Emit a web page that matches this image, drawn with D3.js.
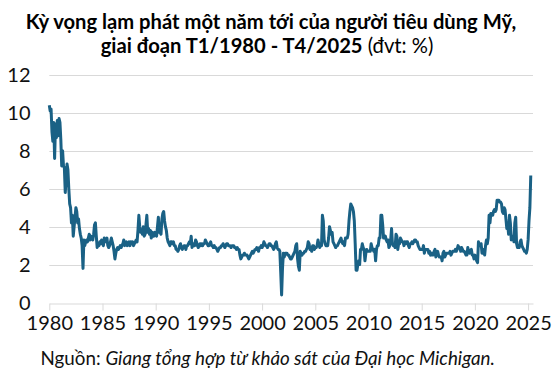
<!DOCTYPE html>
<html>
<head>
<meta charset="utf-8">
<script src="https://cdn.jsdelivr.net/npm/d3@7"></script>
<style>
  html, body { margin: 0; padding: 0; background: #fff; }
  svg { display: block; font-family: Lato, "Open Sans", sans-serif; }
</style>
</head>
<body>
<svg id="chart" width="559" height="380"></svg>
<script>
// ---- Data: monthly 1-year inflation expectations (%), Jan 1980 - Apr 2025 ----
const startYear = 1980;
const v1980s = [
  [10.4,10.1,10.2,9.0,8.5,9.5,7.6,9.4,8.7,9.6,8.8,9.7],  // 1980
  [9.5,8.6,7.2,8.0,7.2,7.1,5.8,6.5,7.3,7.0,6.0,5.2],     // 1981
  [5.0,4.2,4.6,3.5,4.0,4.5,5.0,4.8,4.2,4.4,3.9,3.6],     // 1982
  [3.4,3.0,1.8,3.3,3.0,3.2,3.3,3.2,3.4,3.6,3.3,3.5],     // 1983
  [3.4,3.3,3.6,4.1,4.2,3.5,2.9,3.1,3.0,3.2,3.1,3.3],     // 1984
  [3.1,3.0,3.4,3.2,3.3,3.4,3.0,2.9,3.0,3.2,3.4,3.2],     // 1985
  [3.0,2.7,2.3,2.6,2.8,2.9,2.8,2.9,3.0,2.9,3.0,3.1],     // 1986
  [3.3,3.0,3.1,3.2,3.0,3.1,3.2,3.0,3.2,3.1,3.2,3.0],     // 1987
  [3.1,3.2,3.3,3.2,3.8,4.6,4.0,3.7,3.8,3.6,4.0,3.5],     // 1988
  [3.6,4.1,4.6,3.7,3.9,3.6,3.8,3.4,3.7,3.5,3.5,3.7]      // 1989
];
const v1990s = [
  [3.6,3.5,4.0,4.5,3.7,3.7,3.6,4.4,4.7,4.8,4.3,4.0],     // 1990
  [3.8,3.4,3.2,3.1,3.0,3.2,3.2,3.1,3.2,3.0,3.0,2.8],     // 1991
  [2.8,2.7,2.8,3.0,3.1,2.9,2.8,2.9,3.0,3.0,2.8,3.0],     // 1992
  [3.0,3.1,3.2,3.1,3.5,2.9,3.1,3.0,3.0,3.3,3.2,3.0],     // 1993
  [2.9,3.0,3.1,3.0,3.1,3.0,3.1,3.1,3.3,3.2,3.1,3.0],     // 1994
  [3.0,3.1,3.2,3.0,3.0,2.9,3.0,2.9,2.9,2.8,2.7,2.8],     // 1995
  [2.9,2.9,3.0,3.0,3.1,3.0,2.9,3.0,3.1,3.1,3.0,3.0],     // 1996
  [3.0,2.9,3.0,3.0,3.0,2.9,2.9,2.8,2.9,2.8,2.8,2.5],     // 1997
  [2.3,2.4,2.5,2.5,2.6,2.5,2.5,2.5,2.4,2.3,2.4,2.5],     // 1998
  [2.6,2.7,2.6,2.7,2.8,2.8,2.9,2.8,2.7,2.9,2.9,3.0]      // 1999
];
const v2000s = [
  [2.9,3.0,3.2,3.1,3.0,3.0,2.9,3.0,3.1,3.1,3.0,3.0],     // 2000
  [2.9,2.8,2.9,3.1,3.2,2.9,2.8,2.8,2.7,1.6,0.4,1.8],     // 2001
  [2.6,2.4,2.6,2.6,2.6,2.5,2.5,2.4,2.3,2.3,2.4,2.5],     // 2002
  [2.6,2.7,3.0,3.1,2.3,1.9,1.7,2.7,2.6,2.5,2.6,2.6],     // 2003
  [2.7,2.7,2.8,2.9,3.2,3.1,2.8,2.8,2.7,3.0,3.0,2.8],     // 2004
  [2.9,2.9,3.0,3.3,3.1,2.9,3.1,3.0,4.6,4.3,3.3,3.1],     // 2005
  [3.0,3.0,3.0,3.4,4.0,3.8,3.6,3.7,3.2,3.1,3.0,2.9],     // 2006
  [3.0,3.0,3.1,3.2,3.3,3.4,3.2,3.1,3.2,3.0,3.4,3.4],     // 2007
  [3.4,3.6,4.3,4.8,5.2,5.1,5.0,4.8,4.3,3.1,1.7,1.7],     // 2008
  [2.0,2.2,2.0,2.8,2.8,3.1,2.9,2.8,2.2,2.6,2.8,2.7]      // 2009
];
const v2010s = [
  [2.7,2.7,2.7,3.1,2.9,2.8,2.7,2.8,2.2,2.8,3.0,3.0],     // 2010
  [3.4,3.4,4.6,4.6,4.1,3.4,3.4,3.5,3.3,3.2,3.3,2.9],     // 2011
  [3.0,3.3,3.9,3.1,3.0,3.0,2.9,3.6,3.5,2.8,3.1,3.1],     // 2012
  [3.4,3.3,3.2,3.2,3.0,3.2,3.1,3.2,3.2,3.0,2.9,3.1],     // 2013
  [3.1,3.2,3.1,3.2,3.3,3.3,3.2,3.2,3.0,2.9,2.8,2.8],     // 2014
  [2.8,2.8,3.0,2.6,2.8,2.8,2.8,2.8,2.6,2.7,2.5,2.6],     // 2015
  [2.5,2.5,2.7,2.8,2.4,2.6,2.7,2.5,2.4,2.4,2.4,2.2],     // 2016
  [2.6,2.7,2.4,2.5,2.6,2.6,2.6,2.6,2.7,2.5,2.6,2.7],     // 2017
  [2.7,2.7,2.8,2.7,2.8,3.0,2.9,2.9,2.7,2.9,2.8,2.7],     // 2018
  [2.7,2.6,2.5,2.5,2.9,2.7,2.6,2.7,2.8,2.5,2.5,2.3]      // 2019
];
const v2020s = [
  [2.5,2.4,2.2,2.1,3.2,3.0,3.0,3.1,2.6,2.6,2.8,2.5],     // 2020
  [3.0,3.3,3.1,3.4,4.6,4.2,4.7,4.6,4.6,4.8,4.9,4.8],     // 2021
  [4.9,5.4,5.4,5.4,5.3,5.3,5.2,4.8,4.7,5.0,4.9,4.4],     // 2022
  [3.9,4.1,3.6,4.6,4.2,3.3,3.4,3.5,3.2,4.2,4.5,3.1],     // 2023
  [2.9,3.0,2.9,3.2,3.3,3.0,2.9,2.8,2.7,2.7,2.6,2.8],     // 2024
  [3.3,4.3,5.0,6.7]                                      // 2025 (T1-T4)
];
const xTickYears = [1980,1985,1990,1995,2000,2005,2010,2015,2020,2025];
const yTickValues = [0,2,4,6,8,10,12];
const titleLine1 = "Kỳ vọng lạm phát một năm tới của người tiêu dùng Mỹ,";
const titleLine2Bold = "giai đoạn T1/1980 - T4/2025";
const titleLine2Unit = " (đvt: %)";
const sourceLabel = "Nguồn: ";
const sourceText = "Giang tổng hợp từ khảo sát của Đại học Michigan.";

// ---- Build series ----
const allYears = [].concat(v1980s, v1990s, v2000s, v2010s, v2020s);
const series = [];
allYears.forEach((months, yi) => {
  months.forEach((val, mi) => {
    series.push({ t: startYear + yi + mi / 12, v: val });
  });
});

// ---- Layout ----
const svg = d3.select("#chart");
const x = d3.scaleLinear().domain([1980, 2025.46]).range([49.3, 533]);
const y = d3.scaleLinear().domain([0, 12]).range([302.5, 75]);

// Gridlines
svg.append("g").selectAll("line")
  .data(yTickValues.filter(d => d > 0))
  .join("line")
  .attr("x1", x.range()[0]).attr("x2", x.range()[1])
  .attr("y1", d => Math.round(y(d)) + 0.5).attr("y2", d => Math.round(y(d)) + 0.5)
  .attr("stroke", "#d9d9d9").attr("stroke-width", 1);

// Y labels
svg.append("g").selectAll("text")
  .data(yTickValues)
  .join("text")
  .attr("x", 30.5).attr("y", d => y(d))
  .attr("dy", "0.36em")
  .attr("text-anchor", "end")
  .attr("font-size", 20)
  .attr("fill", "#111")
  .text(d => d);

// X axis
const xAxis = d3.axisBottom(x)
  .tickValues(xTickYears)
  .tickFormat(d3.format("d"))
  .tickSize(7)
  .tickSizeOuter(0)
  .tickPadding(5);
const gx = svg.append("g")
  .attr("transform", `translate(0,${Math.round(y(0)) + 0.5})`)
  .call(xAxis);
gx.select(".domain").attr("stroke", "#d9d9d9");
gx.selectAll(".tick line").attr("stroke", "#d9d9d9");
gx.selectAll(".tick text")
  .attr("font-family", "Lato, sans-serif")
  .attr("font-size", 20)
  .attr("fill", "#111");

// Line
const line = d3.line().x(d => x(d.t)).y(d => y(d.v));
svg.append("path")
  .datum(series)
  .attr("d", line)
  .attr("fill", "none")
  .attr("stroke", "#1a6185")
  .attr("stroke-width", 3)
  .attr("stroke-linejoin", "round");

// Title
const title = svg.append("text")
  .attr("text-anchor", "middle")
  .attr("font-size", 20.2)
  .attr("fill", "#000");
title.append("tspan").attr("x", 271).attr("y", 28.5)
  .attr("font-weight", "bold").text(titleLine1);
title.append("tspan").attr("x", 267).attr("y", 52.5)
  .attr("font-weight", "bold").text(titleLine2Bold);
title.append("tspan").attr("font-weight", "normal").text(titleLine2Unit);

// Source
const src = svg.append("text")
  .attr("x", 40.5).attr("y", 365)
  .attr("font-size", 18.8)
  .attr("fill", "#111");
src.append("tspan").text(sourceLabel);
src.append("tspan").attr("font-style", "italic").text(sourceText);
</script>
</body>
</html>
